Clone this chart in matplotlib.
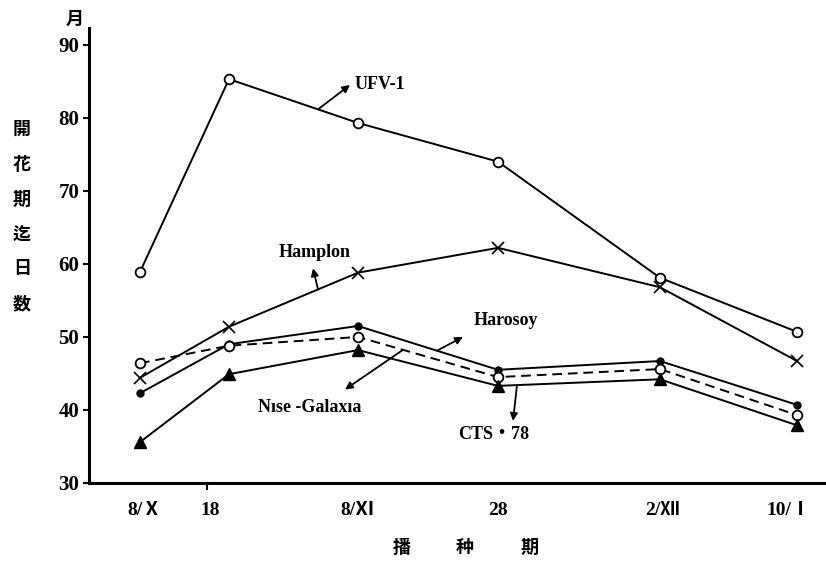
import numpy as np
import matplotlib
matplotlib.use("Agg")
import matplotlib.pyplot as plt

plt.rcParams['font.family'] = ['Liberation Serif', 'Noto Sans CJK JP', 'DejaVu Sans']

# sowing dates along the x axis (axis units)
sow_x = [51, 140, 269, 409, 571, 708]
tick_pos = [56, 121, 269, 409, 574, 700]
tick_labels = ["8/Ⅹ", "18", "8/Ⅺ", "28", "2/Ⅻ", "10/Ⅰ"]
tick_marks = [118, 269, 409, 574]

# days to flowering per variety
ufv1 = [58.9, 85.3, 79.3, 74.0, 58.1, 50.7]
hampton = [44.4, 51.4, 58.8, 62.2, 56.8, 46.7]
harosoy = [42.3, 49.0, 51.5, 45.5, 46.7, 40.7]
nise_galaxia = [46.4, 48.8, 50.0, 44.5, 45.6, 39.3]
cts78 = [35.6, 44.9, 48.2, 43.3, 44.2, 37.9]

yticks = [30, 40, 50, 60, 70, 80, 90]

fig = plt.figure(figsize=(8.26, 5.68), dpi=100)
ax = fig.add_axes([89 / 826, 85 / 568, 737 / 826, 455 / 568])

lw = 1.4
ax.plot(sow_x, ufv1, color='black', lw=lw, marker='o', ms=7,
        mfc='white', mec='black', mew=1.3)
ax.plot(sow_x, hampton, color='black', lw=lw, marker='x', ms=8, mew=1.2)
ax.plot(sow_x, harosoy, color='black', lw=lw, marker='o', ms=5)
ax.plot(sow_x, nise_galaxia, color='black', lw=lw, ls=(0, (5, 3)), marker='o',
        ms=7, mfc='white', mec='black', mew=1.3)
ax.plot(sow_x, cts78, color='black', lw=lw, marker='^', ms=9)

ax.set_xlim(0, 737)
ax.set_ylim(30, 92.3)

for s in ['top', 'right']:
    ax.spines[s].set_visible(False)
for s in ['left', 'bottom']:
    ax.spines[s].set_linewidth(2.2)

ax.set_yticks(yticks)
ax.set_yticklabels([str(v) for v in yticks], fontsize=15, fontweight='bold')
ax.tick_params(axis='y', length=4, width=1.5, pad=3)

ax.set_xticks(tick_pos)
ax.set_xticklabels(tick_labels, fontsize=14, fontweight='bold')
ax.tick_params(axis='x', which='major', length=0, pad=14)
ax.set_xticks(tick_marks, minor=True)
ax.tick_params(axis='x', which='minor', length=5, width=1.5)


def arrow_label(text, series, x0, tip, text_xy, ha='center'):
    y0 = np.interp(x0, sow_x, series)
    ax.annotate('', xy=tip, xytext=(x0, y0),
                arrowprops=dict(arrowstyle='-|>', color='black', lw=1.3,
                                mutation_scale=11, shrinkA=0, shrinkB=0))
    ax.text(text_xy[0], text_xy[1], text, ha=ha, va='center',
            fontsize=13, fontweight='bold')


arrow_label("UFV-1", ufv1, 229, (261, 84.5), (266, 84.6), ha='left')
arrow_label("Hamplon", hampton, 229, (224, 59.4), (226, 61.6))
arrow_label("Harosoy", harosoy, 348, (374, 50.0), (417, 52.2))
arrow_label("Nıse -Galaxıa", nise_galaxia, 314, (256, 42.8), (221, 40.3))
arrow_label("CTS・78", cts78, 428, (424, 38.5), (405, 36.6))

# vertical y-axis title and unit
for i, ch in enumerate("開花期迄日数"):
    fig.text(22 / 826, 1 - (130 + 35 * i) / 568, ch, ha='center', va='center',
             fontsize=13, fontweight='bold')
fig.text(75 / 826, 1 - 20 / 568, "月", ha='center', va='center',
         fontsize=13, fontweight='bold')

# x-axis title
for px, ch in zip([402, 465, 530], "播种期"):
    fig.text(px / 826, 1 - 548 / 568, ch, ha='center', va='center',
             fontsize=13, fontweight='bold')

fig.savefig("out.png", dpi=100)
